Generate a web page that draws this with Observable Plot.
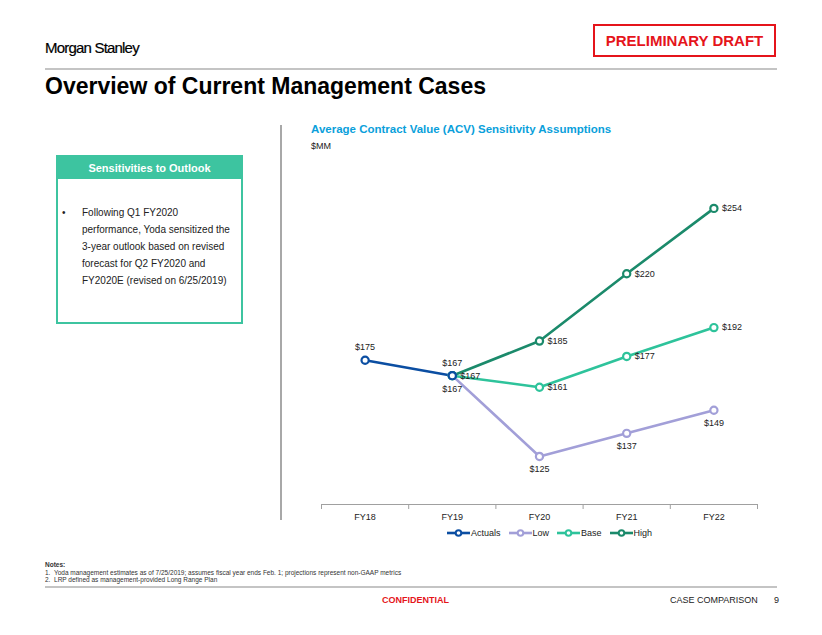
<!DOCTYPE html>
<html>
<head>
<meta charset="utf-8">
<script src="https://cdn.jsdelivr.net/npm/d3@7"></script>
<script src="https://cdn.jsdelivr.net/npm/@observablehq/plot@0.6"></script>
<style>
  html, body { margin: 0; padding: 0; background: #fff; }
  body { width: 822px; height: 635px; position: relative; overflow: hidden; font-family: "Liberation Sans", Arial, sans-serif; color: #000; }
  .abs { position: absolute; white-space: nowrap; }
  #logo { left: 45px; top: 39px; font-size: 15px; letter-spacing: -0.8px; color: #000; -webkit-text-stroke: 0.2px #000; }
  #draft { left: 593px; top: 24px; width: 179px; height: 29px; border: 2px solid #E5141B; color: #E5141B; font-weight: bold; font-size: 15px; line-height: 29px; text-align: center; }
  .hr { position: absolute; left: 45px; width: 732px; height: 2px; background: #C4C4C4; }
  #title { left: 45px; top: 73px; font-size: 23px; font-weight: bold; color: #000; }
  #box { left: 56px; top: 155px; width: 183px; height: 165px; border: 2px solid #3DC4A0; }
  #boxhead { position: absolute; left: 0; top: 0; width: 183px; height: 22px; background: #3DC4A0; color: #fff; font-weight: bold; font-size: 11px; line-height: 22px; text-align: center; }
  #boxtext { position: absolute; left: 24px; top: 47px; font-size: 10px; line-height: 17px; color: #222; white-space: nowrap; }
  #bullet { position: absolute; left: 4px; top: 47px; font-size: 10px; line-height: 17px; color: #222; }
  #vline { left: 280px; top: 125px; width: 2px; height: 395px; background: #A8A8A8; }
  #ctitle { left: 311px; top: 123px; font-size: 11.5px; font-weight: bold; color: #0A9FDB; }
  #csub { left: 311px; top: 141px; font-size: 9px; color: #222; }
  #chart { left: 300px; top: 160px; }
  #legend { left: 447px; top: 528px; display: flex; align-items: center; font-size: 9px; color: #222; }
  .li { display: flex; align-items: center; margin-right: 8px; }
  .li svg { margin-right: 1px; }
  #notes { left: 45px; top: 561px; font-size: 6.5px; line-height: 7.5px; color: #333; }
  #conf { left: 382px; top: 595px; font-size: 9px; font-weight: bold; color: #E5141B; }
  #case { left: 670px; top: 595px; font-size: 9px; color: #222; }
  #page { left: 774px; top: 595px; font-size: 9px; color: #222; }
</style>
</head>
<body>
<div class="abs" id="logo">Morgan Stanley</div>
<div class="abs" id="draft">PRELIMINARY DRAFT</div>
<div class="hr" style="top:68px"></div>
<div class="abs" id="title">Overview of Current Management Cases</div>

<div class="abs" id="box">
  <div id="boxhead">Sensitivities to Outlook</div>
  <div id="bullet">•</div>
  <div id="boxtext">Following Q1 FY2020<br>performance, Yoda sensitized the<br>3-year outlook based on revised<br>forecast for Q2 FY2020 and<br>FY2020E (revised on 6/25/2019)</div>
</div>

<div class="abs" id="vline"></div>
<div class="abs" id="ctitle">Average Contract Value (ACV) Sensitivity Assumptions</div>
<div class="abs" id="csub">$MM</div>
<div class="abs" id="chart"></div>
<div class="abs" id="legend"></div>

<div class="abs" id="notes"><b>Notes:</b><br>1.&nbsp; Yoda management estimates as of 7/25/2019; assumes fiscal year ends Feb. 1; projections represent non-GAAP metrics<br>2.&nbsp; LRP defined as management-provided Long Range Plan</div>
<div class="hr" style="top:586px"></div>
<div class="abs" id="conf">CONFIDENTIAL</div>
<div class="abs" id="case">CASE COMPARISON</div>
<div class="abs" id="page">9</div>

<script>
// ---- Data ----
const categories = ["FY18", "FY19", "FY20", "FY21", "FY22"];
const seriesNames = ["Actuals", "Low", "Base", "High"];
const seriesColors = ["#0B4EA2", "#A29FD8", "#2EC39B", "#1B8A6B"];
const actuals = [175, 167, null, null, null];
const low     = [null, 167, 125, 137, 149];
const base    = [null, 167, 161, 177, 192];
const high    = [null, 167, 185, 220, 254];
const yDomain = [100, 275];

// ---- Build table ----
const seriesValues = { Actuals: actuals, Low: low, Base: base, High: high };
const drawOrder = ["Low", "Base", "High", "Actuals"];
const rows = [];
for (const s of drawOrder) {
  seriesValues[s].forEach((v, i) => {
    if (v != null) rows.push({ series: s, i, cat: categories[i], value: v });
  });
}
// FY19 high label coincides with the base one; only one is shown
const labelRows = rows.filter(d => !(d.series === "High" && d.cat === "FY19"));
const above = labelRows.filter(d => d.series === "Actuals");
const below = labelRows.filter(d => d.series === "Low");
const right = labelRows.filter(d => d.series === "Base" || d.series === "High");
const fmt = v => "$" + v;

const boundaries = d3.range(categories.length + 1).map(k => k - 0.5);

const chart = Plot.plot({
  width: 500,
  height: 366,
  marginLeft: 21,
  marginRight: 43,
  marginTop: 7.5,
  marginBottom: 22,
  style: { fontFamily: "Liberation Sans, Arial, sans-serif", fontSize: "9px", color: "#222", background: "transparent" },
  x: { type: "linear", domain: [-0.5, categories.length - 0.5] },
  y: { domain: yDomain, axis: null },
  color: { domain: seriesNames, range: seriesColors },
  marks: [
    Plot.ruleY([yDomain[0]], { stroke: "#A0A0A0", strokeWidth: 1.2 }),
    Plot.axisX(boundaries, { tickSize: 5, tickFormat: () => "", stroke: "#A0A0A0", label: null }),
    Plot.axisX(d3.range(categories.length), { tickSize: 0, tickPadding: 9, tickFormat: i => categories[i], label: null, fill: "#222" }),
    Plot.line(rows, { x: "i", y: "value", z: "series", stroke: "series", strokeWidth: 2.6 }),
    Plot.dot(rows, { x: "i", y: "value", stroke: "series", fill: "white", r: 3.6, strokeWidth: 2.2 }),
    Plot.text(above, { x: "i", y: "value", text: d => fmt(d.value), dy: -13, fill: "#222" }),
    Plot.text(below, { x: "i", y: "value", text: d => fmt(d.value), dy: 13, fill: "#222" }),
    Plot.text(right, { x: "i", y: "value", text: d => fmt(d.value), dx: 8, textAnchor: "start", fill: "#222" })
  ]
});
document.getElementById("chart").appendChild(chart);

// ---- Legend ----
const legend = document.getElementById("legend");
seriesNames.forEach((s, k) => {
  const c = seriesColors[k];
  const item = document.createElement("div");
  item.className = "li";
  item.innerHTML = `<svg width="23" height="10"><line x1="0" y1="5" x2="23" y2="5" stroke="${c}" stroke-width="2.6"/><circle cx="11.5" cy="5" r="2.8" fill="white" stroke="${c}" stroke-width="2"/></svg><span>${s}</span>`;
  legend.appendChild(item);
});
</script>
</body>
</html>
